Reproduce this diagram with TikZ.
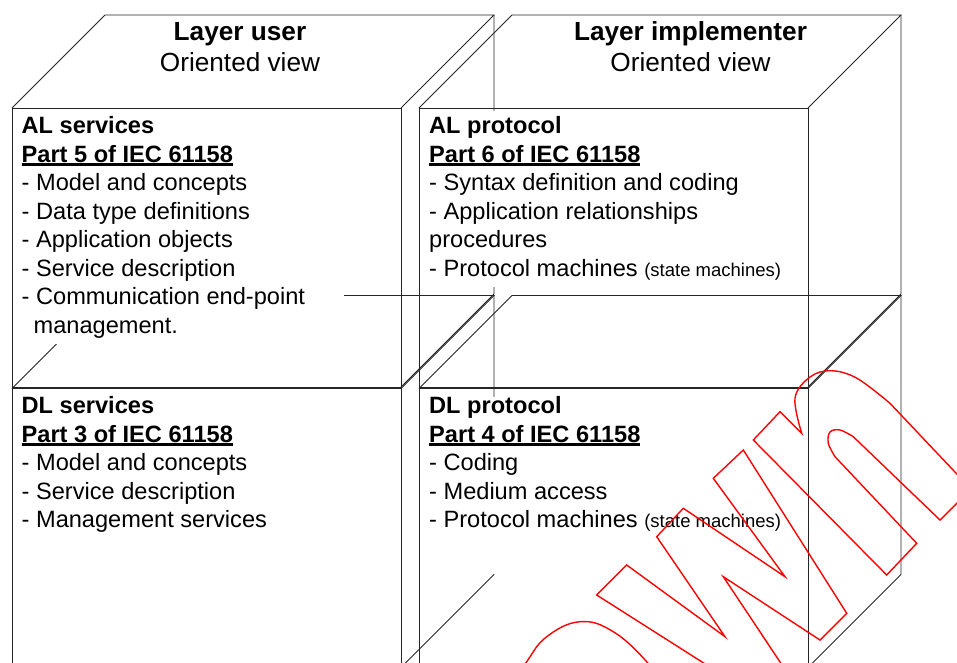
\documentclass[tikz,border=0pt]{standalone}
\usepackage{fontspec}
\setmainfont{Liberation Sans}
\usepackage{tikz}
\tikzset{
    %Define style for the cube edges
    edge line/.style={
           draw=black!85,
           line width=0.9pt},
    %Define style for the white areas behind the texts
    textmask/.style={
           fill=white},
    %Define style for the headings on the top faces
    heading/.style={
           anchor=base,
           inner sep=0pt,
           font=\fontsize{26.2}{31.7}\selectfont},
    %Define style for the texts on the front faces
    facetext/.style={
           anchor=north west,
           inner sep=0pt,
           align=left,
           font=\fontsize{23.6}{28.5}\selectfont},
    %Define style for the red stamp
    stamp/.style={
           draw=red,
           line width=1.4pt,
           line join=miter}
}
%Underlined part reference
\newsavebox{\partbox}
\newcommand{\partref}[1]{\sbox{\partbox}{\bfseries #1}%
  \rlap{\rule[-3.6pt]{\wd\partbox}{2.3pt}}\usebox{\partbox}}
%Small note after an item
\newcommand{\smallnote}[1]{{\fontsize{18.5}{28.5}\selectfont #1}}
%Cube: front left x, front top y, width, height
\newcommand{\cuboid}[4]{%
  \draw[edge line] (#1,#2) rectangle ++(#3,#4);
  \draw[edge line] (#1,#2) -- ++(93,-93) -- ++(#3,0) -- ++(-93,93);
  \draw[edge line] (#1+#3,#2+#4) -- ++(93,-93) -- ++(0,-#4);}

\begin{document}
\begin{tikzpicture}[x=1pt,y=-1pt]
\useasboundingbox (0,0) rectangle (957,662);
\clip (0,0) rectangle (957,662);
 %cubes
\cuboid{12}{108}{389}{279}
\cuboid{419}{108}{389}{279}
\cuboid{12}{388.5}{389}{279}
\cuboid{419}{388.5}{389}{279}
 %white areas behind the texts
\fill[textmask] (14,110) rectangle (344,344);
\fill[textmask] (421,111) rectangle (795,287);
\fill[textmask] (421,397) rectangle (795,574);
 %headings
\node[heading] (usertitle) at (240,40) {\bfseries Layer user};
\node[heading] (userview) at (240,71.7) {Oriented view};
\node[heading] (impltitle) at (690.5,40) {\bfseries Layer implementer};
\node[heading] (implview) at (690.5,71.7) {Oriented view};
 %front faces
\node[facetext] (alservices) at (21.5,113.5) {\strut\textbf{AL services}\\
  \partref{Part 5 of IEC 61158}\\
  - Model and concepts\\
  - Data type definitions\\
  - Application objects\\
  - Service description\\
  - Communication end-point\\
  \hspace*{12pt}management.};
\node[facetext] (alprotocol) at (429,113.5) {\strut\textbf{AL protocol}\\
  \partref{Part 6 of IEC 61158}\\
  - Syntax definition and coding\\
  - Application relationships\\
  procedures\\
  - Protocol machines \smallnote{(state machines)}};
\node[facetext] (dlservices) at (21.5,393.5) {\strut\textbf{DL services}\\
  \partref{Part 3 of IEC 61158}\\
  - Model and concepts\\
  - Service description\\
  - Management services};
\node[facetext] (dlprotocol) at (429,393.5) {\strut\textbf{DL protocol}\\
  \partref{Part 4 of IEC 61158}\\
  - Coding\\
  - Medium access\\
  - Protocol machines \smallnote{(state machines)}};
 %stamp
\draw[stamp] plot[smooth, tension=0.7] coordinates {(512,685) (526.7,661.7) (546.7,636.7) (580,621.7) (613.3,631.7) (646.7,661.7) (662,685)};
\draw[stamp] (596.7,595) -- (626.7,565) -- (725,636.7) -- (656.7,536.7) -- (683.3,508.3)
  -- (785,576.7) -- (713.3,478.3) -- (743.3,450) -- (846.7,613.3) -- (820,640)
  -- (723.3,576.7) -- (786.7,672) -- (760.7,699.3) -- cycle;
\draw[stamp] (886.7,575) -- (753.3,440) -- (780,411.7) -- (801.7,433.3)
  -- plot[smooth, tension=0.6] coordinates {(801.7,433.3) (795,398) (810,377) (831,370.7) (857,378.3) (890,403.3)}
  -- (971,489) -- (940,520)
  -- plot[smooth, tension=0.6] coordinates {(853.3,436.7) (840,430) (830,432) (828.3,443.3) (835,456.7)}
  -- (916.7,543.3) -- cycle;
\end{tikzpicture}
\end{document}
